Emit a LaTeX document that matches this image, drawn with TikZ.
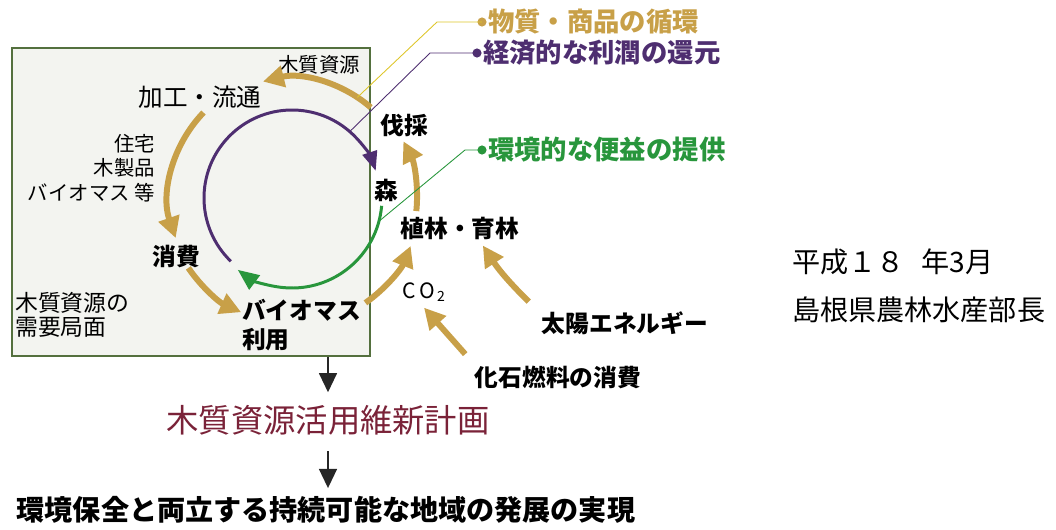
\documentclass[tikz,border=0pt]{standalone}
\usepackage{fontspec}
\setmainfont{Noto Sans CJK JP}
\usetikzlibrary{arrows.meta,calc,positioning}
\definecolor{goldc}{RGB}{200,160,72}
\definecolor{purplec}{RGB}{78,46,112}
\definecolor{greenc}{RGB}{40,150,60}
\definecolor{maroonc}{RGB}{122,34,56}
\definecolor{boxline}{RGB}{84,112,62}
\definecolor{boxfill}{RGB}{243,244,240}

\begin{document}
\begin{tikzpicture}[x=0.02cm,y=0.02cm,
    demandbox/.style={draw=boxline,line width=0.9pt,fill=boxfill,minimum width=7.16cm,minimum height=6.16cm,inner sep=0pt},
    keylabel/.style={font=\fontsize{13.5}{17}\selectfont\bfseries},
    smalllabel/.style={font=\fontsize{11.6}{14}\selectfont},
    legendlabel/.style={font=\fontsize{15}{18}\selectfont\bfseries,anchor=west},
    goldarrow/.style={draw=goldc,line width=3.4pt,-{Triangle[length=12pt,width=12pt]}},
    purplearrow/.style={draw=purplec,line width=1.7pt,-{Triangle[length=11pt,width=8.5pt]}},
    greenarrow/.style={draw=greenc,line width=1.7pt,-{Triangle[length=12pt,width=10pt]}},
    blackarrow/.style={draw=black!85,line width=1.7pt,-{Triangle[length=11pt,width=10pt]}}]
  \useasboundingbox (0,0) rectangle (1056,529);
  \coordinate (O) at (292,331);

  % demand side
  \node[demandbox] (demand) at (191,327) {};
  \node[font=\fontsize{14}{16}\selectfont] (proc) at (200,432) {加工・流通};
  \node[smalllabel] (wood) at (319,464) {木質資源};
  \node[smalllabel,align=right,anchor=east] (prod) at (161,361) {住宅\\木製品\\バイオマス 等};
  \node[keylabel] (use) at (176,272) {消費};
  \node[keylabel,align=left,anchor=west] (bio) at (236,204) {バイオマス\\利用};
  \node[font=\fontsize{13}{14}\selectfont,align=left,anchor=west] (demandlbl) at (9,214) {木質資源の\\需要局面};

  % forest side
  \node[keylabel] (cut) at (404,404) {伐採};
  \node[keylabel] (forest) at (386,339) {森};
  \node[keylabel] (plant) at (460,301) {植林・育林};
  \node[font=\fontsize{12}{14}\selectfont] (co2) at (424,237) {C\,O\textsubscript{\,2}};
  \node[keylabel] (sun) at (625,206) {太陽エネルギー};
  \node[keylabel] (fossil) at (558,152) {化石燃料の消費};

  % cycles
  \foreach \a/\b/\r in {49/104/120,136/199/123,214/246/125,-55/-22/128,-6/27/125}
    \draw[goldarrow] ($(O)+(\a:\r)$) arc[start angle=\a,end angle=\b,radius=\r];
  \draw[purplearrow] ($(O)+(226:88)$) arc[start angle=226,end angle=18,radius=88];
  \draw[greenarrow] ($(O)+(-5:90)$) arc[start angle=-5,end angle=-127,radius=90];
  \draw[goldarrow] ([xshift=-4pt,yshift=2pt]sun.north west) to[bend left=6] ([xshift=13pt]plant.south);
  \draw[goldarrow] ([xshift=-2pt,yshift=3pt]fossil.north west) -- (co2.south);

  % legend
  \node[legendlabel,text=goldc] (lgold) at (482,507) {物質・商品の循環};
  \node[legendlabel,text=purplec] (lpurple) at (477,476) {経済的な利潤の還元};
  \node[legendlabel,text=greenc] (lgreen) at (482,379) {環境的な便益の提供};
  \fill[goldc] (lgold.west) circle (2.6pt);
  \fill[purplec] (lpurple.west) circle (2.6pt);
  \fill[greenc] (lgreen.west) circle (2.6pt);
  \draw[goldc!60!yellow,line width=0.5pt] (lgold.west) -- ++(-45,0) -- ($(O)+(57:120)$);
  \draw[purplec,line width=0.5pt] (lpurple.west) -- ++(-47,0) -- ($(O)+(49:88)$);
  \draw[greenc,line width=0.5pt] (lgreen.west) -- ++(-17,0) -- ($(O)+(-15:90)$);

  % outcome
  \node[font=\fontsize{18.4}{22}\selectfont,text=maroonc,inner sep=7pt] (plan) at (328,109) {木質資源活用維新計画};
  \node[font=\fontsize{16}{19}\selectfont\bfseries,inner sep=4.5pt] (goal) at (326,19) {環境保全と両立する持続可能な地域の発展の実現};
  \draw[blackarrow] (demand.south -| plan.north) -- (plan.north);
  \draw[blackarrow,shorten <=2pt] (plan.south) -- (plan.south |- goal.north);

  \node[font=\fontsize{16}{19}\selectfont,anchor=west] (date) at (786,267) {平成１８\hspace{0.6em}年3月};
  \node[font=\fontsize{16}{19}\selectfont,anchor=west] (dept) at (786,219) {島根県農林水産部長};
\end{tikzpicture}
\end{document}
